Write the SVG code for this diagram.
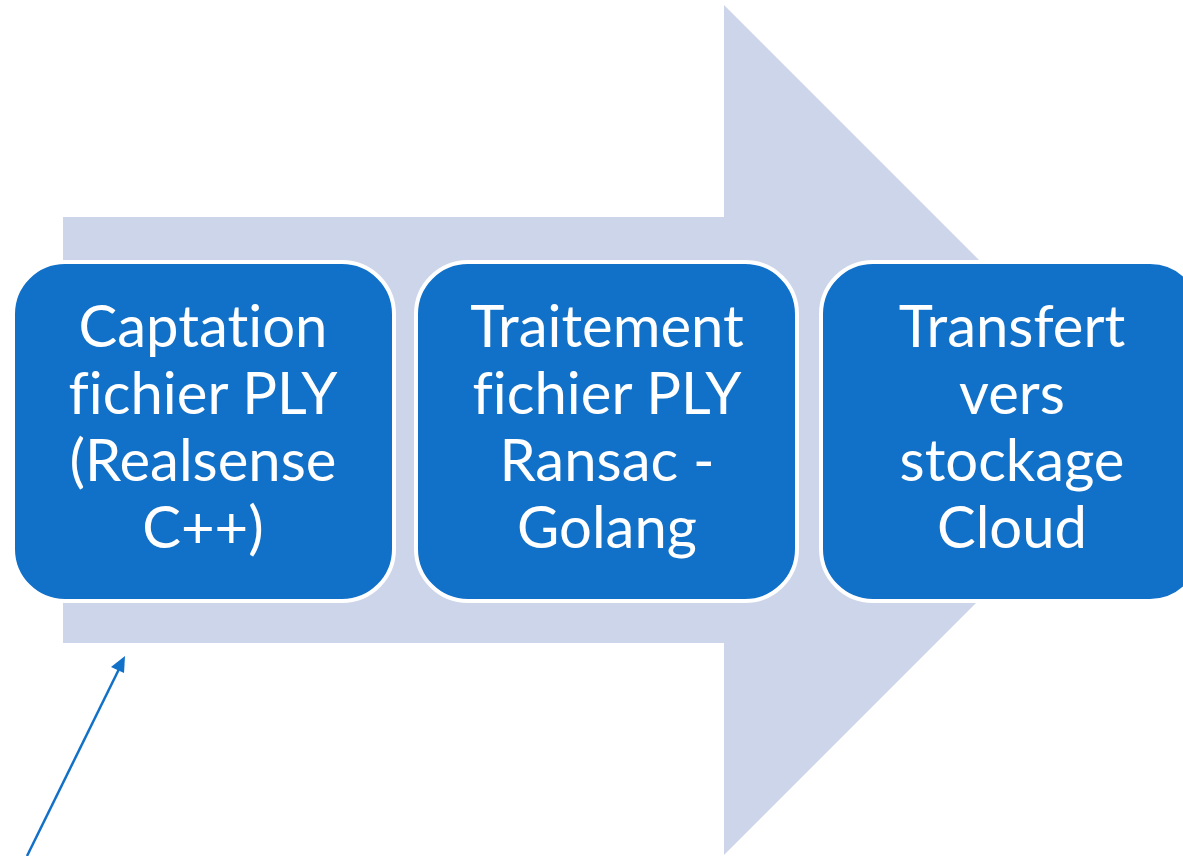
<svg xmlns="http://www.w3.org/2000/svg" width="1183" height="856" viewBox="0 0 1183 856">
<style>
.box{fill:#1170C8;stroke:#FFFFFF;stroke-width:4}
.lbl{fill:#FFFFFF;font-family:Lato,"Open Sans","Liberation Sans",sans-serif;font-size:58px;text-anchor:middle;font-variant-ligatures:none}
</style>
<rect width="1183" height="856" fill="#FFFFFF"/>
<polygon id="bigarrow" points="63,217 724,217 724,5 1149,430 724,855 724,643 63,643" fill="#CDD5EA"/>
<g id="node1">
<rect class="box" x="13" y="262" width="381" height="339" rx="52"/>
<text class="lbl"><tspan x="203" y="347">Captation</tspan><tspan x="203" y="414">fichier PLY</tspan><tspan x="203" y="481">(Realsense</tspan><tspan x="203" y="548">C++)</tspan></text>
</g>
<g id="node2">
<rect class="box" x="416" y="262" width="381" height="339" rx="52"/>
<text class="lbl"><tspan x="607" y="347">Traitement</tspan><tspan x="607" y="414">fichier PLY</tspan><tspan x="607" y="481">Ransac -</tspan><tspan x="607" y="548">Golang</tspan></text>
</g>
<g id="node3">
<rect class="box" x="821" y="262" width="381" height="339" rx="52"/>
<text class="lbl"><tspan x="1012" y="347">Transfert</tspan><tspan x="1012" y="414">vers</tspan><tspan x="1012" y="481">stockage</tspan><tspan x="1012" y="548">Cloud</tspan></text>
</g>
<g id="connectors">
<line x1="27" y1="856" x2="122" y2="663" stroke="#1170C8" stroke-width="2.5"/>
<polygon points="125,656 124,673 111,667" fill="#1170C8"/>
</g>
</svg>
